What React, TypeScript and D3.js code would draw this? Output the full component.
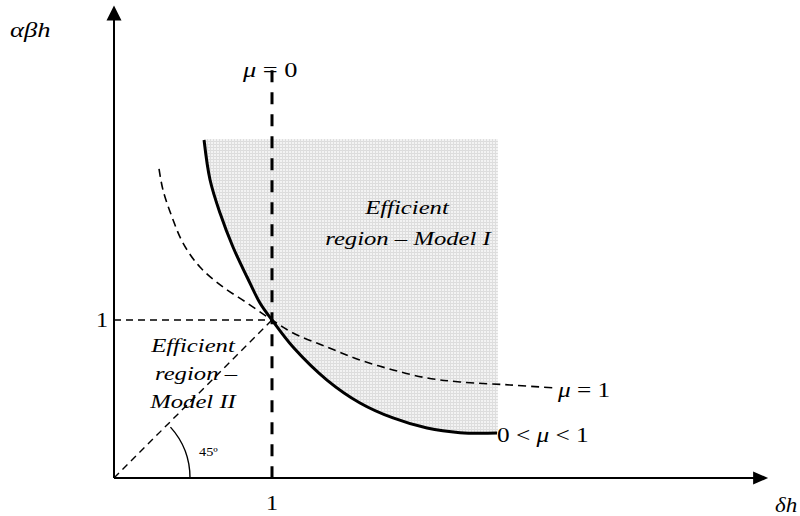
import React from 'react';
import * as d3 from 'd3';

const W = 800;
const H = 516;

// 0 < mu < 1 frontier (solid), data units
const solidCurve: [number, number][] = [
  [0.57, 2.139], [0.608, 1.886], [0.671, 1.677], [0.753, 1.462], [0.842, 1.272],
  [0.924, 1.108], [1, 1], [1.133, 0.829], [1.348, 0.62], [1.557, 0.475],
  [1.766, 0.38], [1.981, 0.316], [2.19, 0.287], [2.424, 0.285],
];
// mu = 1 curve (dashed)
const dashedCurve: [number, number][] = [
  [0.285, 1.956], [0.31, 1.823], [0.367, 1.652], [0.437, 1.487], [0.544, 1.335],
  [0.69, 1.209], [0.842, 1.108], [1, 1], [1.133, 0.918], [1.348, 0.829],
  [1.557, 0.747], [1.766, 0.684], [1.981, 0.633], [2.19, 0.608], [2.506, 0.589], [2.791, 0.57],
];
const regionTop = 2.146;
const regionRight = 2.43;
const muZeroTop = 2.58;
const xAxisEnd = 4.14;
const yAxisEnd = 2.99;
const unitTick = 1;

const FONT = '"Liberation Serif", "Times New Roman", serif';

function Label(props: {
  x: number; y: number; size: number; sx?: number; anchor?: string; italic?: boolean; children: any;
}) {
  const { x, y, size, sx = 1.3, anchor = 'start', italic = false, children } = props;
  return (
    <text
      transform={`translate(${x},${y}) scale(${sx},1)`}
      fontSize={size}
      fontFamily={FONT}
      fontStyle={italic ? 'italic' : 'normal'}
      textAnchor={anchor}
      fill="#000"
    >
      {children}
    </text>
  );
}

export default function App() {
  const x = d3.scaleLinear().domain([0, 1]).range([114, 272]);
  const y = d3.scaleLinear().domain([0, 1]).range([478, 320]);

  const line = d3
    .line<[number, number]>()
    .x((d) => x(d[0]))
    .y((d) => y(d[1]))
    .curve(d3.curveCatmullRom.alpha(0.5));

  const solidPath = line(solidCurve) || '';
  const dashedPath = line(dashedCurve) || '';
  const shadePath =
    solidPath +
    ` L${x(regionRight)},${y(solidCurve[solidCurve.length - 1][1])}` +
    ` L${x(regionRight)},${y(regionTop)}` +
    ` L${x(solidCurve[0][0])},${y(regionTop)} Z`;

  const arc = d3.path();
  arc.arc(x(0), y(0), 76, -(42 * Math.PI) / 180, 0);

  const ox = x(0);
  const oy = y(0);
  const xEnd = x(xAxisEnd);
  const yEnd = y(yAxisEnd);

  return (
    <svg width={W} height={H} style={{ position: 'absolute', left: 0, top: 0, background: '#fff' }}>
      <defs>
        <pattern id="grid" width="3" height="3" patternUnits="userSpaceOnUse">
          <rect width="3" height="3" fill="#f3f3f3" />
          <rect width="3" height="1" fill="#dcdcdc" />
          <rect width="1" height="3" fill="#dedede" />
        </pattern>
      </defs>

      {/* shaded efficient region Model I */}
      <path d={shadePath} fill="url(#grid)" stroke="none" />

      {/* reference dashed lines */}
      <line x1={x(0)} y1={y(unitTick)} x2={x(unitTick)} y2={y(unitTick)} stroke="#000" strokeWidth={1.6} strokeDasharray="7,5" />
      <line x1={x(0)} y1={y(0)} x2={x(unitTick)} y2={y(unitTick)} stroke="#000" strokeWidth={1.4} strokeDasharray="7,5" />
      <line x1={x(unitTick)} y1={y(muZeroTop)} x2={x(unitTick)} y2={y(0)} stroke="#000" strokeWidth={3} strokeDasharray="12,10" />

      {/* curves */}
      <path d={dashedPath} fill="none" stroke="#000" strokeWidth={1.6} strokeDasharray="8,5" />
      <path d={solidPath} fill="none" stroke="#000" strokeWidth={3} />

      {/* 45 degree arc */}
      <path d={arc.toString()} fill="none" stroke="#000" strokeWidth={1.4} />

      {/* axes */}
      <line x1={ox} y1={oy} x2={xEnd - 12} y2={oy} stroke="#000" strokeWidth={2} />
      <path d={`M${xEnd},${oy} L${xEnd - 15},${oy - 6.5} L${xEnd - 15},${oy + 6.5} Z`} fill="#000" />
      <line x1={ox} y1={oy} x2={ox} y2={yEnd + 12} stroke="#000" strokeWidth={2} />
      <path d={`M${ox},${yEnd} L${ox - 7.5},${yEnd + 15} L${ox + 7.5},${yEnd + 15} Z`} fill="#000" />

      {/* axis labels */}
      <Label x={10} y={37} size={20} sx={1.33} italic>αβh</Label>
      <Label x={775} y={512} size={20} sx={1.15} italic>δh</Label>
      <Label x={x(unitTick)} y={510} size={22} sx={1.1} anchor="middle">1</Label>
      <Label x={108} y={327} size={22} sx={1.1} anchor="end">1</Label>

      {/* curve labels */}
      <Label x={243} y={77} size={22} sx={1.2}>
        <tspan fontStyle="italic">μ</tspan> = 0
      </Label>
      <Label x={558} y={397} size={22} sx={1.15}>
        <tspan fontStyle="italic">μ</tspan> = 1
      </Label>
      <Label x={497} y={442} size={22} sx={1.15}>
        0 &lt; <tspan fontStyle="italic">μ</tspan> &lt; 1
      </Label>
      <Label x={199} y={456} size={13} sx={1.1}>45º</Label>

      {/* region labels */}
      <Label x={407} y={214} size={19} anchor="middle" italic>Efficient</Label>
      <Label x={408} y={245} size={19} anchor="middle" italic>region – Model I</Label>
      <Label x={193} y={352} size={19} anchor="middle" italic>Efficient</Label>
      <Label x={196} y={380} size={19} anchor="middle" italic>region –</Label>
      <Label x={193} y={408} size={19} anchor="middle" italic>Model II</Label>
    </svg>
  );
}
